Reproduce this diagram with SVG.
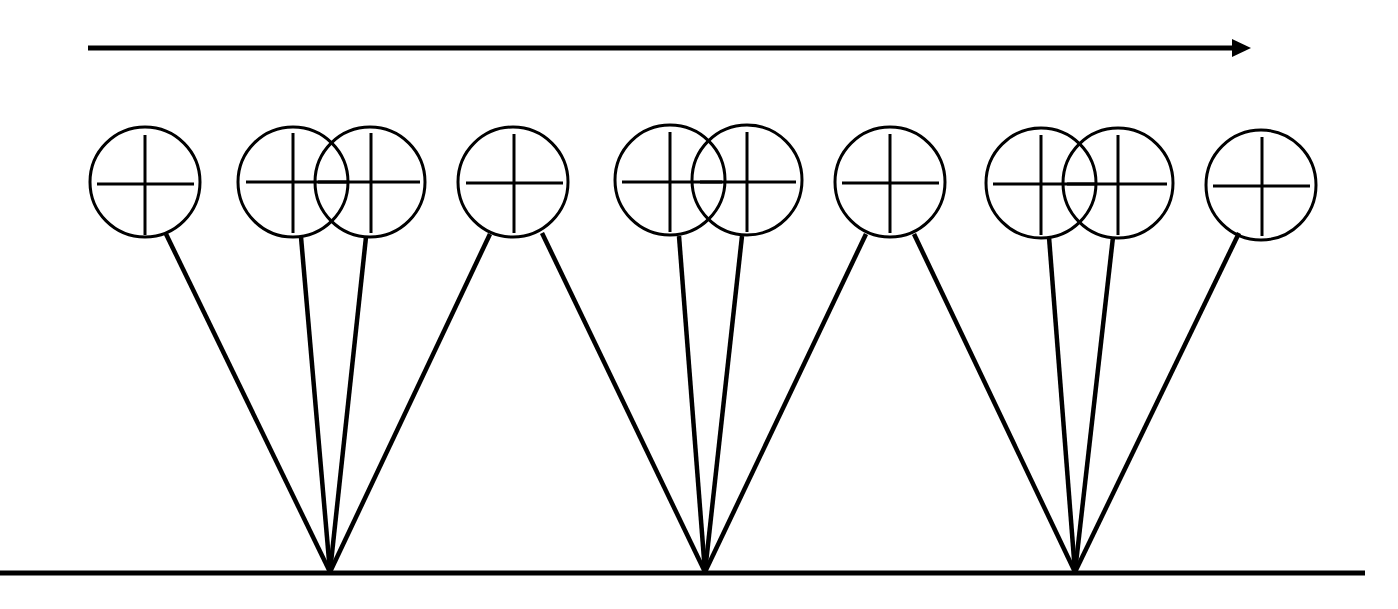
<svg xmlns="http://www.w3.org/2000/svg" width="1398" height="609" viewBox="0 0 1398 609">
<style>
.c{fill:none;stroke:#000;stroke-width:3}
.x{stroke:#000;stroke-width:3}
.l{stroke:#000;stroke-width:4.5;fill:none}
</style>
<defs>
<marker id="ah" markerWidth="20" markerHeight="18" refX="0" refY="9" orient="auto" markerUnits="userSpaceOnUse">
<path d="M0,0 L19,9 L0,18 Z" fill="#000"/>
</marker>
</defs>
<rect width="1398" height="609" fill="#fff"/>
<g id="connectors">
<line class="l" x1="88" y1="48" x2="1232" y2="48" marker-end="url(#ah)" style="stroke-width:5"/>
<line class="l" x1="0" y1="573" x2="1365" y2="573" style="stroke-width:5"/>
<line class="l" x1="166" y1="234" x2="330" y2="572"/>
<line class="l" x1="301" y1="237" x2="330" y2="572"/>
<line class="l" x1="366" y1="237" x2="330" y2="572"/>
<line class="l" x1="490" y1="234" x2="330" y2="572"/>
<line class="l" x1="542" y1="233" x2="705" y2="572"/>
<line class="l" x1="679" y1="236" x2="705" y2="572"/>
<line class="l" x1="742" y1="236" x2="705" y2="572"/>
<line class="l" x1="866" y1="234" x2="705" y2="572"/>
<line class="l" x1="914" y1="234" x2="1075" y2="572"/>
<line class="l" x1="1049" y1="237" x2="1075" y2="572"/>
<line class="l" x1="1113" y1="237" x2="1075" y2="572"/>
<line class="l" x1="1239" y1="233" x2="1075" y2="572"/>
</g>
<g id="n1"><circle class="c" cx="145" cy="182" r="55"/><line class="x" x1="97" y1="184" x2="194" y2="184"/><line class="x" x1="145" y1="135" x2="145" y2="235"/></g>
<g id="n2"><circle class="c" cx="293" cy="182" r="55"/><line class="x" x1="246" y1="182" x2="347" y2="182"/><line class="x" x1="293" y1="133" x2="293" y2="233"/></g>
<g id="n3"><circle class="c" cx="370" cy="182" r="55"/><line class="x" x1="318" y1="182" x2="420" y2="182"/><line class="x" x1="371" y1="133" x2="371" y2="233"/></g>
<g id="n4"><circle class="c" cx="513" cy="182" r="55"/><line class="x" x1="466" y1="183" x2="563" y2="183"/><line class="x" x1="514" y1="134" x2="514" y2="233"/></g>
<g id="n5"><circle class="c" cx="670" cy="180" r="55"/><line class="x" x1="622" y1="182" x2="722" y2="182"/><line class="x" x1="670" y1="132" x2="670" y2="232"/></g>
<g id="n6"><circle class="c" cx="747" cy="180" r="55"/><line class="x" x1="700" y1="182" x2="796" y2="182"/><line class="x" x1="747" y1="132" x2="747" y2="232"/></g>
<g id="n7"><circle class="c" cx="890" cy="182" r="55"/><line class="x" x1="842" y1="183" x2="939" y2="183"/><line class="x" x1="890" y1="134" x2="890" y2="233"/></g>
<g id="n8"><circle class="c" cx="1041" cy="183" r="55"/><line class="x" x1="993" y1="184" x2="1096" y2="184"/><line class="x" x1="1041" y1="135" x2="1041" y2="235"/></g>
<g id="n9"><circle class="c" cx="1118" cy="183" r="55"/><line class="x" x1="1067" y1="184" x2="1167" y2="184"/><line class="x" x1="1118" y1="135" x2="1118" y2="235"/></g>
<g id="n10"><circle class="c" cx="1261" cy="185" r="55"/><line class="x" x1="1213" y1="186" x2="1310" y2="186"/><line class="x" x1="1262" y1="137" x2="1262" y2="236"/></g>
</svg>
